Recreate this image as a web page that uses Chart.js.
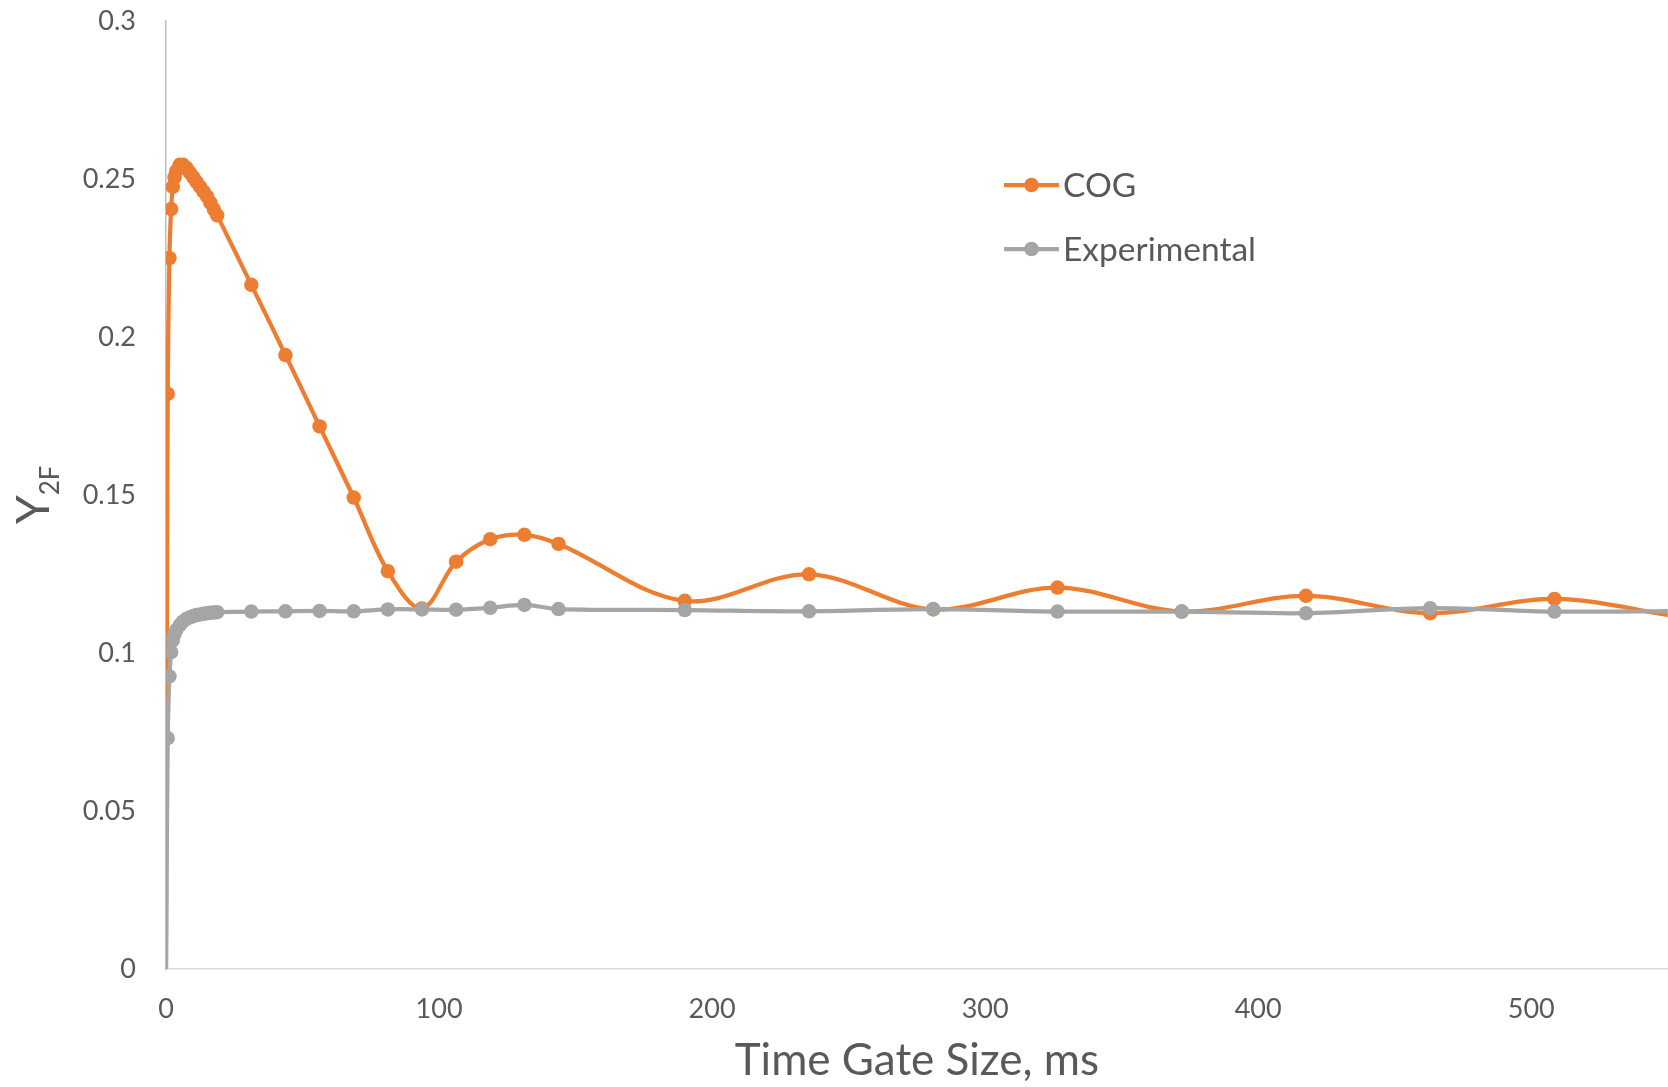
<!DOCTYPE HTML>
<html>
<head>
  <meta charset="UTF-8">
  <script src="https://cdn.jsdelivr.net/npm/chart.js"></script>
  <style>
    html, body {
      margin: 0;
      padding: 0;
      background: #ffffff;
      overflow: hidden;
    }
    /* a few px wider than the window so the plot area runs off the right edge */
    .chart-container {
      width: 1675px;
      height: 1087px;
    }
  </style>
</head>
<body>
  <div class="chart-container">
    <canvas id="y2fChart"></canvas>
  </div>

<script>
  // Time gate sizes (ms) shared by both series
  const gateMs = [
    0, 0.625, 1.25, 1.875, 2.5, 3.125, 3.75, 5, 6.25, 7.5, 8.75, 10, 11.25, 12.5, 13.75, 15, 16.25, 17.5, 18.75,
    31.25, 43.75, 56.25, 68.75, 81.25, 93.75, 106.25, 118.75, 131.25, 143.75,
    190, 235.5, 281, 326.5, 372, 417.5, 463, 508.5, 554
  ];

  // Y2F from the COG model
  const cogY2F = [
    0, 0.182, 0.225, 0.2405, 0.2475, 0.2505, 0.2525, 0.2545, 0.2545, 0.2535, 0.252, 0.2505, 0.249, 0.2475, 0.246, 0.2445, 0.2425, 0.2405, 0.2385,
    0.2165, 0.1943, 0.1717, 0.1492, 0.1259, 0.1141, 0.1289, 0.1360, 0.1374, 0.1345,
    0.1165, 0.1249, 0.1138, 0.1207, 0.1131, 0.1181, 0.1126, 0.1171, 0.1115
  ];

  // Y2F measured
  const expY2F = [
    0, 0.0731, 0.0926, 0.1003, 0.104, 0.106, 0.1072, 0.1088, 0.1100, 0.1108, 0.1113, 0.1117, 0.1120, 0.1122, 0.1124, 0.1126, 0.1127, 0.1128, 0.1129,
    0.1131, 0.1132, 0.1133, 0.1132, 0.1138, 0.1138, 0.1137, 0.1143, 0.1152, 0.1139,
    0.1136, 0.1132, 0.1139, 0.1131, 0.1131, 0.1126, 0.1142, 0.1131, 0.1133
  ];

  const seriesNames = ['COG', 'Experimental'];
  const xTitle = 'Time Gate Size, ms';

  const ORANGE = '#ED7D31';
  const GREY = '#A5A5A5';
  const TEXT = '#595959';
  const FONT = 'Lato, "Open Sans", sans-serif';
  const LINE_W = 4.25;
  const MARK_R = 7.25;

  function toPoints(values) {
    return gateMs.map((t, i) => ({ x: t, y: values[i] }));
  }

  // no marker on the origin point
  function markerRadius(ctx) {
    return ctx.dataIndex === 0 ? 0 : MARK_R;
  }

  // Rotated Y2F axis title and the line+marker legend
  const extras = {
    id: 'extras',
    afterDraw(chart) {
      const ctx = chart.ctx;
      ctx.save();
      ctx.fillStyle = TEXT;
      ctx.textBaseline = 'alphabetic';
      ctx.textAlign = 'left';

      ctx.save();
      ctx.translate(49, 524);
      ctx.rotate(-Math.PI / 2);
      ctx.font = '46px ' + FONT;
      ctx.fillText('Y', 0, 0);
      const yw = ctx.measureText('Y').width;
      ctx.font = '26px ' + FONT;
      ctx.fillText('2F', yw, 10);
      ctx.restore();

      const rows = [
        { name: seriesNames[0], color: ORANGE, y: 185 },
        { name: seriesNames[1], color: GREY, y: 249 }
      ];
      rows.forEach(r => {
        ctx.strokeStyle = r.color;
        ctx.lineWidth = LINE_W;
        ctx.beginPath();
        ctx.moveTo(1004, r.y);
        ctx.lineTo(1059, r.y);
        ctx.stroke();
        ctx.fillStyle = r.color;
        ctx.beginPath();
        ctx.arc(1031.5, r.y, MARK_R, 0, Math.PI * 2);
        ctx.fill();
        ctx.fillStyle = TEXT;
        ctx.font = '33.5px ' + FONT;
        ctx.fillText(r.name, 1063, r.y + 12);
      });
      ctx.restore();
    }
  };

  const ctx = document.getElementById('y2fChart').getContext('2d');
  const chart = new Chart(ctx, {
    type: 'line',
    data: {
      datasets: [
        {
          label: seriesNames[1],
          data: toPoints(expY2F),
          borderColor: GREY,
          backgroundColor: GREY,
          borderWidth: LINE_W,
          pointRadius: markerRadius,
          pointBorderWidth: 0,
          tension: 0.35,
          order: 0
        },
        {
          label: seriesNames[0],
          data: toPoints(cogY2F),
          borderColor: ORANGE,
          backgroundColor: ORANGE,
          borderWidth: LINE_W,
          pointRadius: markerRadius,
          pointBorderWidth: 0,
          tension: 0.35,
          order: 1
        }
      ]
    },
    options: {
      responsive: true,
      maintainAspectRatio: false,
      animation: false,
      layout: { padding: { top: 21, right: 0, left: 0, bottom: 0 } },
      plugins: {
        legend: { display: false },
        tooltip: { enabled: false }
      },
      scales: {
        x: {
          type: 'linear',
          min: 0,
          max: 550,
          grid: { display: false, drawTicks: false },
          border: { display: true, color: '#D9D9D9', width: 1.5 },
          ticks: {
            stepSize: 100,
            includeBounds: false,
            padding: 24,
            color: TEXT,
            font: { family: FONT, size: 27 },
            maxRotation: 0
          },
          title: {
            display: true,
            text: xTitle,
            color: TEXT,
            font: { family: FONT, size: 44 },
            padding: { top: 0, bottom: 0 }
          },
          afterFit(scale) {
            scale.height = 118;
            scale.paddingLeft = 0;
            scale.paddingRight = 0;
          }
        },
        y: {
          min: 0,
          max: 0.3,
          grid: { display: false, drawTicks: false },
          border: { display: true, color: '#BFBFBF', width: 1.5 },
          ticks: {
            stepSize: 0.05,
            padding: 30,
            color: TEXT,
            font: { family: FONT, size: 27 },
            callback: v => String(Number(v.toFixed(2)))
          },
          afterFit(scale) {
            scale.width = 166;
            scale.paddingTop = 0;
            scale.paddingBottom = 0;
          }
        }
      }
    },
    plugins: [extras]
  });
</script>
</body>
</html>
